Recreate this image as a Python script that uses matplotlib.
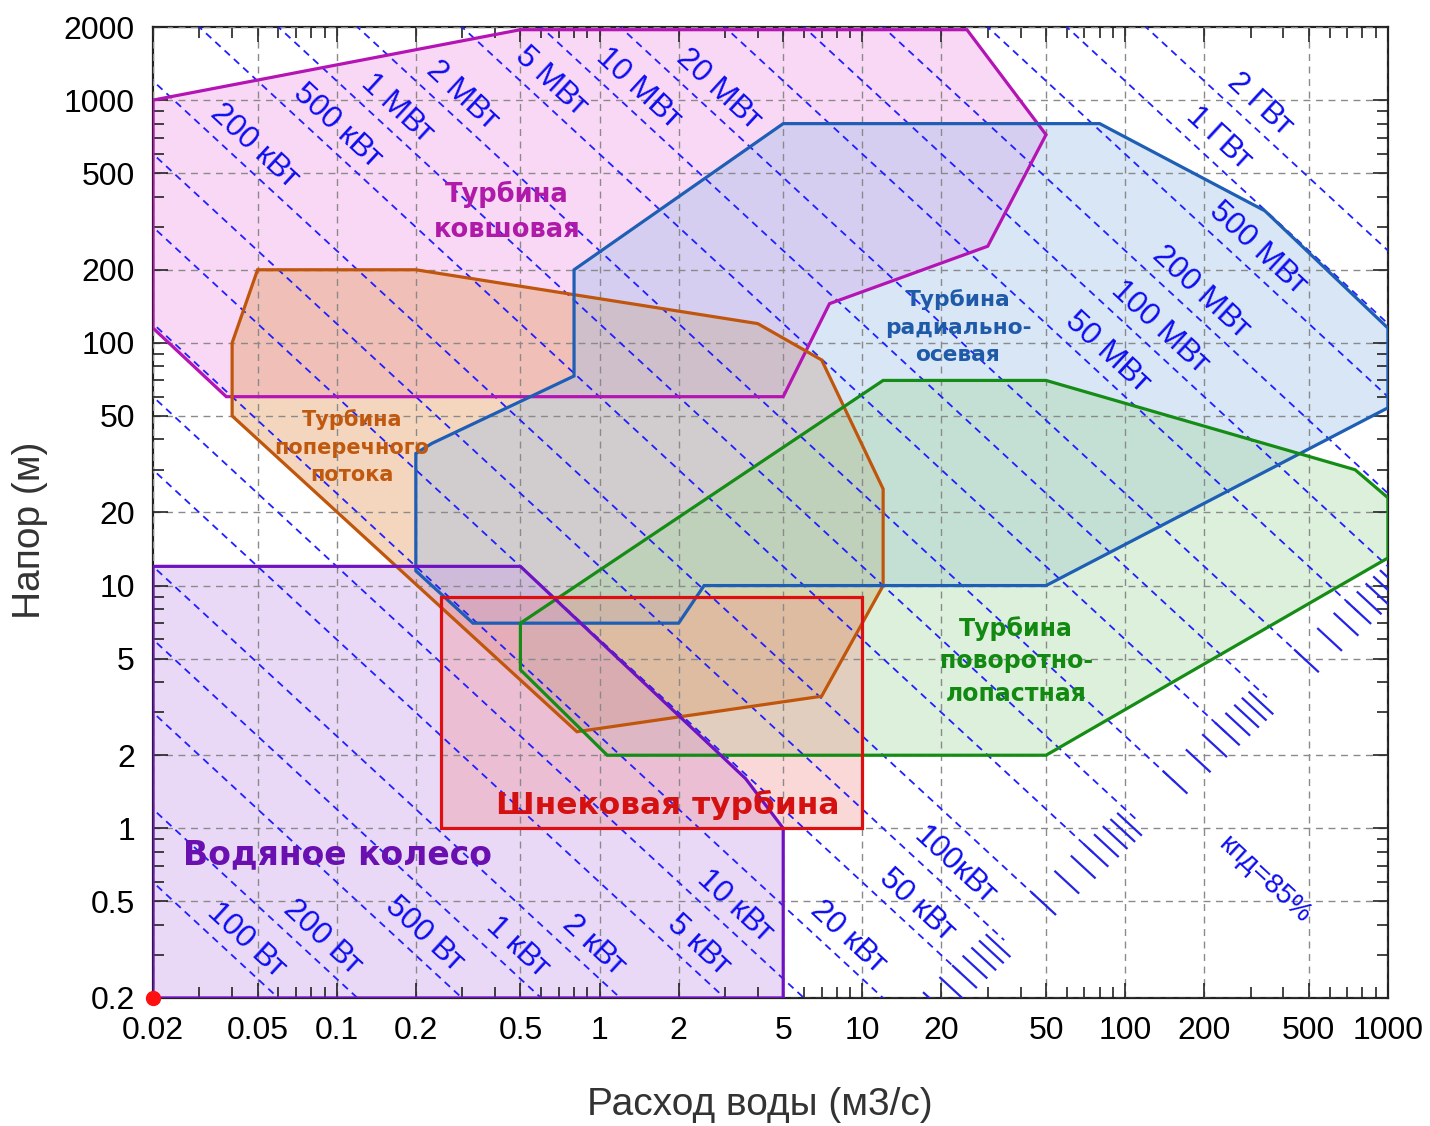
import numpy as np
import matplotlib.pyplot as plt
from matplotlib.patches import Polygon
from matplotlib.ticker import FixedLocator, FixedFormatter, LogLocator, NullFormatter

# --- данные ---
eta = 0.85            # кпд
rho_g = 1000 * 9.81   # плотность воды * g

# линии постоянной мощности, Вт
power_w = [100, 200, 500, 1e3, 2e3, 5e3, 1e4, 2e4, 5e4, 1e5, 2e5, 5e5,
           1e6, 2e6, 5e6, 1e7, 2e7, 5e7, 1e8, 2e8, 5e8, 1e9, 2e9]
power_labels = ["100 Вт", "200 Вт", "500 Вт", "1 кВт", "2 кВт", "5 кВт",
                "10 кВт", "20 кВт", "50 кВт", "100кВт", "200 кВт", "500 кВт",
                "1 МВт", "2 МВт", "5 МВт", "10 МВт", "20 МВт", "50 МВт",
                "100 МВт", "200 МВт", "500 МВт", "1 ГВт", "2 ГВт"]
# расход, у которого стоит подпись линии
label_q = [0.04, 0.078, 0.19, 0.43, 0.84, 2.1, 2.9, 7.8, 14.3, 19.9, 0.043,
           0.089, 0.15, 0.265, 0.58, 1.24, 2.5, 76, 120, 171, 283, 200, 288]

# шкала мощности (засечки 2..9 в каждой декаде)
scale_decades = [1e4, 1e5, 1e6, 1e7]
scale_subs = [2, 3, 4, 5, 6, 7, 8, 9]

# области турбин: расход (м3/с), напор (м)
pelton_q = [0.02, 0.5, 25, 50, 30, 7.5, 5, 0.038, 0.02]
pelton_h = [1000, 1950, 1950, 720, 250, 145, 60, 60, 115]

cross_q = [0.05, 0.2, 4, 7, 12, 12, 7, 0.82, 0.04, 0.04]
cross_h = [200, 200, 120, 85, 25, 10, 3.5, 2.5, 50, 100]

francis_q = [0.8, 5, 80, 340, 1000, 1000, 50, 2.5, 2, 0.33, 0.2, 0.2, 0.23, 0.8]
francis_h = [200, 800, 800, 350, 115, 54, 10, 10, 7, 7, 11.5, 35, 38.5, 73]

kaplan_q = [12, 50, 750, 1000, 1000, 50, 1.07, 0.5, 0.5]
kaplan_h = [70, 70, 30, 23, 13, 2, 2, 4.5, 7]

wheel_q = [0.02, 0.5, 3.6, 5, 5, 0.02]
wheel_h = [12, 12, 1.6, 1, 0.2, 0.2]

screw_q = [0.25, 10, 10, 0.25]
screw_h = [1, 1, 9, 9]

x_ticks = [0.02, 0.05, 0.1, 0.2, 0.5, 1, 2, 5, 10, 20, 50, 100, 200, 500, 1000]
x_tick_labels = ["0.02", "0.05", "0.1", "0.2", "0.5", "1", "2", "5", "10",
                 "20", "50", "100", "200", "500", "1000"]
y_ticks = [0.2, 0.5, 1, 2, 5, 10, 20, 50, 100, 200, 500, 1000, 2000]
y_tick_labels = ["0.2", "0.5", "1", "2", "5", "10", "20", "50", "100", "200",
                 "500", "1000", "2000"]


def main():
    fig = plt.figure(figsize=(14.3, 11.26), dpi=100)
    ax = fig.add_axes([0.107, 0.1137, 0.8636, 0.8623])
    ax.set_xscale('log')
    ax.set_yscale('log')
    ax.set_xlim(0.02, 1000)
    ax.set_ylim(0.2, 2000)

    # области
    areas = [
        (pelton_q, pelton_h, '#f5b8ef', 0.55, '#b414b4'),
        (cross_q, cross_h, '#e39a5c', 0.40, '#c0560c'),
        (francis_q, francis_h, '#9fc1ea', 0.40, '#1e5eb4'),
        (kaplan_q, kaplan_h, '#9fd69a', 0.35, '#158c15'),
        (wheel_q, wheel_h, '#c9a0ec', 0.40, '#6e12c2'),
        (screw_q, screw_h, '#f08080', 0.30, '#dc1010'),
    ]
    for q, h, fc, a, ec in areas:
        ax.add_patch(Polygon(np.column_stack([q, h]), closed=True,
                             facecolor=fc, alpha=a, edgecolor='none', zorder=1))
    for q, h, fc, a, ec in areas:
        ax.add_patch(Polygon(np.column_stack([q, h]), closed=True,
                             facecolor='none', edgecolor=ec, lw=2.3, zorder=4))

    # линии мощности до шкалы H = Q / 100
    ratio = 100.0
    for p in power_w:
        k = p / (rho_g * eta)
        q_end = np.sqrt(ratio * k)
        q = np.array([1e-3, q_end])
        ax.plot(q, k / q, color='#1f1fff', lw=1.3, ls=(0, (4, 3)), zorder=3)

    # засечки шкалы
    t = 0.047
    for d in scale_decades:
        for s in scale_subs:
            k = s * d / (rho_g * eta)
            qc = np.sqrt(ratio * k)
            hc = qc / ratio
            ax.plot([qc * 10**-t, qc * 10**t], [hc * 10**t, hc * 10**-t],
                    color='#2424e6', lw=1.6, solid_capstyle='butt', zorder=3)

    # угол наклона линий на экране
    p1 = ax.transData.transform((1, 1))
    p2 = ax.transData.transform((10, 0.1))
    ang = np.degrees(np.arctan2(p2[1] - p1[1], p2[0] - p1[0]))
    nx, ny = -np.sin(np.radians(ang)), np.cos(np.radians(ang))
    off = 15
    for p, lab, q in zip(power_w, power_labels, label_q):
        k = p / (rho_g * eta)
        ax.annotate(lab, (q, k / q), xytext=(off * nx, off * ny),
                    textcoords='offset points', ha='center', va='center',
                    rotation=ang, rotation_mode='anchor', color='#0d0df0',
                    fontsize=22.5, family='Liberation Sans', zorder=6)
    ax.text(340, 0.612, "кпд=85%", rotation=ang, rotation_mode='anchor',
            ha='center', va='center', color='#0d0df0', fontsize=20,
            family='Liberation Sans', zorder=6)

    # подписи областей
    bold = dict(family='DejaVu Sans', fontweight='bold', ha='center',
                va='center', linespacing=1.45, zorder=7)
    ax.text(0.445, 346, "Турбина\nковшовая", color='#b01aa8', fontsize=18.5, **bold)
    ax.text(23.1, 116, "Турбина\nрадиально-\nосевая", color='#1f5aa8',
            fontsize=15.7, **bold)
    ax.text(0.114, 37.2, "Турбина\nпоперечного\nпотока", color='#c0580e',
            fontsize=15, **bold)
    ax.text(38.5, 4.89, "Турбина\nповоротно-\nлопастная", color='#128a12',
            fontsize=17, **bold)
    ax.text(1.82, 1.25, "Шнековая турбина", color='#d41010', fontsize=22.5, **bold)
    ax.text(0.101, 0.776, "Водяное колесо", color='#6a10b0', fontsize=23.8, **bold)

    # точка в начале координат
    ax.plot([0.02], [0.2], 'o', color='#ff1010', ms=10, clip_on=False, zorder=10)

    # оси
    ax.xaxis.set_major_locator(FixedLocator(x_ticks))
    ax.xaxis.set_major_formatter(FixedFormatter(x_tick_labels))
    ax.yaxis.set_major_locator(FixedLocator(y_ticks))
    ax.yaxis.set_major_formatter(FixedFormatter(y_tick_labels))
    for axis in (ax.xaxis, ax.yaxis):
        axis.set_minor_locator(LogLocator(base=10, subs=np.arange(2, 10), numticks=20))
        axis.set_minor_formatter(NullFormatter())
    ax.tick_params(which='both', direction='in', top=True, right=True,
                   color='#222222', width=1.2)
    ax.tick_params(which='major', length=11, labelsize=23)
    ax.tick_params(axis='x', which='major', pad=13)
    ax.tick_params(axis='y', which='major', pad=13)
    ax.tick_params(which='minor', length=8)
    for lbl in ax.get_xticklabels() + ax.get_yticklabels():
        lbl.set_family('Liberation Sans')
    for s in ax.spines.values():
        s.set_linewidth(1.6)
        s.set_color('#222222')

    ax.grid(True, which='major', ls=(0, (5, 4)), color='#8a8a8a', lw=1.0, zorder=2)
    ax.set_axisbelow(False)

    ax.set_xlabel("Расход воды (м3/с)", fontsize=28, family='Liberation Sans',
                  color='#333333', va='center')
    ax.xaxis.set_label_coords(0.4915, -0.110)
    ax.set_ylabel("Напор (м)", fontsize=28, family='Liberation Sans',
                  color='#333333', va='center')
    ax.yaxis.set_label_coords(-0.0996, 0.482)

    fig.savefig("out.png", dpi=100)


if __name__ == "__main__":
    main()
